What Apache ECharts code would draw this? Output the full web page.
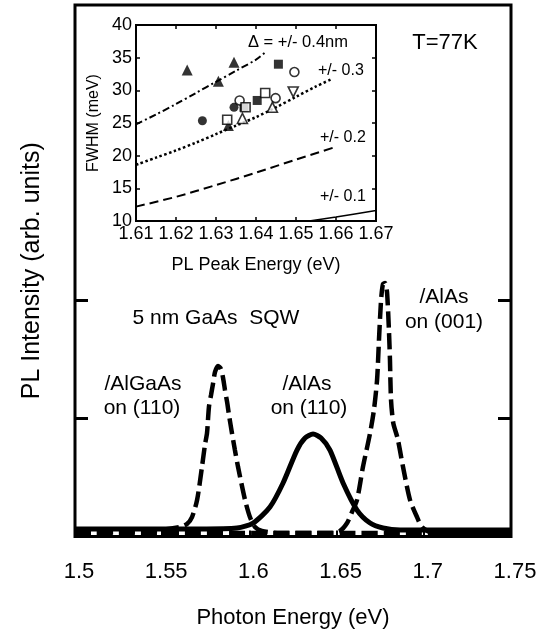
<!DOCTYPE html>
<html>
<head>
<meta charset="utf-8">
<script src="https://cdn.jsdelivr.net/npm/echarts@6/dist/echarts.min.js"></script>
<style>
  html, body { margin: 0; padding: 0; background: #fff; }
  #chart { width: 552px; height: 643px; }
</style>
</head>
<body>
<div id="chart"></div>
<script>
const FONT = '"Liberation Sans", Arial, Helvetica, sans-serif';

// Main panel: PL spectra, [photon energy (eV), intensity (arb. units)]
const algaas110 = [
  [1.5000, 0.030], [1.5258, 0.038], [1.5487, 0.055], [1.5602, 0.080], [1.5642, 0.106],
  [1.5671, 0.165], [1.5700, 0.309], [1.5728, 0.588], [1.5745, 0.775], [1.5757, 0.876],
  [1.5768, 1.097], [1.5780, 1.198], [1.5791, 1.291], [1.5803, 1.393], [1.5820, 1.444],
  [1.5837, 1.418], [1.5849, 1.342], [1.5860, 1.240], [1.5872, 1.139], [1.5883, 1.029],
  [1.5900, 0.876], [1.5917, 0.732], [1.5935, 0.588], [1.5975, 0.309], [1.6003, 0.165],
  [1.6032, 0.080], [1.6072, 0.047], [1.6175, 0.030], [1.7500, 0.030]
];
const alas110 = [
  [1.5000, 0.064], [1.5717, 0.064], [1.5929, 0.072], [1.6021, 0.114], [1.6118, 0.250],
  [1.6193, 0.453], [1.6273, 0.732], [1.6319, 0.834], [1.6365, 0.868], [1.6411, 0.834],
  [1.6462, 0.732], [1.6537, 0.453], [1.6617, 0.224], [1.6692, 0.114], [1.6766, 0.072],
  [1.6864, 0.055], [1.7036, 0.055], [1.7500, 0.055]
];
const alas001 = [
  [1.5000, 0.030], [1.6462, 0.030], [1.6519, 0.047], [1.6560, 0.114], [1.6588, 0.207],
  [1.6617, 0.309], [1.6651, 0.588], [1.6692, 0.876], [1.6714, 1.071], [1.6732, 1.325],
  [1.6743, 1.664], [1.6755, 2.003], [1.6766, 2.138], [1.6778, 2.146], [1.6789, 2.070],
  [1.6800, 1.749], [1.6806, 1.495], [1.6812, 1.156], [1.6825, 0.960], [1.6850, 0.830],
  [1.6881, 0.588], [1.6921, 0.309], [1.6961, 0.165], [1.6990, 0.080], [1.7036, 0.038],
  [1.7150, 0.030], [1.7500, 0.030]
];
const intensityTicks = [1, 2];

// Inset: FWHM (meV) versus PL peak energy (eV)
const filledTriangles = [[1.6228, 33.1], [1.6306, 31.4], [1.6345, 34.3], [1.6331, 24.6]];
const filledCircles   = [[1.6266, 25.35], [1.6345, 27.4]];
const filledSquares   = [[1.6370, 27.4], [1.6403, 28.45], [1.6456, 34.0]];
const openCircles     = [[1.6359, 28.45], [1.6449, 28.8], [1.6496, 32.8]];
const openSquares     = [[1.6328, 25.5], [1.6374, 27.4], [1.6423, 29.6]];
const openTriangles   = [[1.6366, 25.7], [1.6441, 27.4]];
const openDownTriangles = [[1.6493, 29.75]];

// Inset: calculated widths for well-width fluctuations of +/- 0.4, 0.3, 0.2, 0.1 nm
const delta04 = [[1.61, 24.8], [1.615, 26.3], [1.62, 27.9], [1.625, 29.6], [1.63, 31.3], [1.635, 33.0], [1.64, 34.7], [1.6425, 35.9]];
const delta03 = [[1.61, 18.6], [1.615, 19.7], [1.62, 20.8], [1.625, 22.0], [1.63, 23.3], [1.635, 24.6], [1.64, 25.9], [1.645, 27.4], [1.65, 29.0], [1.655, 30.6], [1.6592, 31.8]];
const delta02 = [[1.61, 12.2], [1.62, 13.7], [1.63, 15.5], [1.64, 17.4], [1.65, 19.4], [1.6592, 21.2]];
const delta01 = [[1.6533, 10.0], [1.66, 10.6], [1.67, 11.6]];

const chart = echarts.init(document.getElementById('chart'), null, { renderer: 'canvas' });

const black = '#000';
function scatter(data, symbol, filled, size, rotate) {
  return {
    type: 'scatter', xAxisIndex: 1, yAxisIndex: 2, data: data,
    symbol: symbol, symbolSize: size, symbolRotate: rotate || 0,
    itemStyle: filled ? { color: black, borderWidth: 0 } : { color: '#fff', borderColor: black, borderWidth: 1.6 },
    z: 12, silent: true
  };
}
function insetLine(data, dash, width) {
  return {
    type: 'line', xAxisIndex: 1, yAxisIndex: 2, data: data, symbol: 'none', smooth: 0.3,
    lineStyle: { color: black, width: width, type: dash }, z: 11, silent: true
  };
}
function spectrum(data, dash, width) {
  return {
    type: 'line', xAxisIndex: 0, yAxisIndex: 0, data: data, symbol: 'none', smooth: 0.25,
    lineStyle: { color: black, width: width, type: dash, cap: 'butt' }, z: 3, silent: true
  };
}
function txt(text, x, y, size, align) {
  return {
    type: 'text', x: x, y: y, z: 20,
    style: { text: text, font: size + 'px ' + FONT, fill: black, align: align || 'center', verticalAlign: 'middle' }
  };
}

const option = {
  backgroundColor: '#fff',
  animation: false,
  textStyle: { fontFamily: FONT, color: black },
  grid: [
    { left: 75, right: 41, top: 5, bottom: 106.5, show: true, borderColor: black, borderWidth: 3, backgroundColor: 'transparent', z: 1 },
    { left: 136, top: 25, width: 240, height: 196, show: true, borderColor: black, borderWidth: 2, backgroundColor: '#fff', z: 6 }
  ],
  xAxis: [
    {
      gridIndex: 0, type: 'value', min: 1.5, max: 1.75, interval: 0.05,
      axisLine: { show: false },
      axisTick: { inside: true, length: 6, lineStyle: { color: black, width: 2 } },
      axisLabel: { fontSize: 22, color: black, margin: 24, padding: [0, 0, 0, 8], fontFamily: FONT },
      splitLine: { show: false },
      name: 'Photon Energy (eV)', nameLocation: 'middle', nameGap: 70,
      nameTextStyle: { fontSize: 22, color: black, fontFamily: FONT }
    },
    {
      gridIndex: 1, type: 'value', min: 1.61, max: 1.67, interval: 0.01, z: 13,
      axisLine: { show: false },
      axisTick: { inside: true, length: 4, lineStyle: { color: black, width: 1.5 } },
      axisLabel: { fontSize: 18, color: black, margin: 4, fontFamily: FONT },
      splitLine: { show: false },
      name: 'PL Peak Energy (eV)', nameLocation: 'middle', nameGap: 35,
      nameTextStyle: { fontSize: 18, color: black, fontFamily: FONT }
    },
    {
      gridIndex: 1, type: 'value', position: 'top', min: 1.61, max: 1.67, interval: 0.01, z: 13,
      axisLine: { show: false },
      axisTick: { inside: true, length: 4, lineStyle: { color: black, width: 1.5 } },
      axisLabel: { show: false }, splitLine: { show: false }
    }
  ],
  yAxis: [
    {
      gridIndex: 0, type: 'value', min: 0, max: 4.5,
      axisLine: { show: false },
      axisTick: { inside: true, length: 13, customValues: intensityTicks, lineStyle: { color: black, width: 3 } },
      axisLabel: { show: false, customValues: intensityTicks },
      splitLine: { show: false },
      name: 'PL Intensity (arb. units)', nameLocation: 'middle', nameGap: 30,
      nameTextStyle: { fontSize: 25, color: black, fontFamily: FONT }
    },
    {
      gridIndex: 0, type: 'value', position: 'right', min: 0, max: 4.5,
      axisLine: { show: false },
      axisTick: { inside: true, length: 13, customValues: intensityTicks, lineStyle: { color: black, width: 3 } },
      axisLabel: { show: false, customValues: intensityTicks },
      splitLine: { show: false }
    },
    {
      gridIndex: 1, type: 'value', min: 10, max: 40, interval: 5, z: 13,
      axisLine: { show: false },
      axisTick: { inside: true, length: 4, lineStyle: { color: black, width: 1.5 } },
      axisLabel: { fontSize: 18, color: black, margin: 4, fontFamily: FONT },
      splitLine: { show: false },
      name: 'FWHM (meV)', nameLocation: 'middle', nameGap: 34,
      nameTextStyle: { fontSize: 16, color: black, fontFamily: FONT }
    },
    {
      gridIndex: 1, type: 'value', position: 'right', min: 10, max: 40, interval: 5, z: 13,
      axisLine: { show: false },
      axisTick: { inside: true, length: 4, lineStyle: { color: black, width: 1.5 } },
      axisLabel: { show: false }, splitLine: { show: false }
    }
  ],
  series: [
    spectrum(alas110, 'solid', 5),
    spectrum(algaas110, [16, 6], 4.5),
    spectrum(alas001, [16, 6], 4.5),

    insetLine(delta04, [7, 3, 2, 3], 2),
    insetLine(delta03, [2.5, 2.5], 2.5),
    insetLine(delta02, [9, 5], 2),
    insetLine(delta01, 'solid', 1.5),

    scatter(filledTriangles, 'triangle', true, 11),
    scatter(filledCircles, 'circle', true, 9),
    scatter(filledSquares, 'rect', true, 9),
    scatter(openCircles, 'circle', false, 9),
    scatter(openSquares, 'rect', false, 9),
    scatter(openTriangles, 'triangle', false, 10),
    scatter(openDownTriangles, 'triangle', false, 10, 180)
  ],
  graphic: [
    txt('T=77K', 445, 43, 22),
    txt('5 nm GaAs  SQW', 216, 318, 21),
    txt('/AlGaAs', 143, 384, 21),
    txt('on (110)', 142, 408, 21),
    txt('/AlAs', 307, 384, 21),
    txt('on (110)', 309, 408, 21),
    txt('/AlAs', 444, 297, 21),
    txt('on (001)', 444, 322, 21),
    txt('Δ = +/- 0.4nm', 248, 42, 16.5, 'left'),
    txt('+/- 0.3', 318, 71, 16, 'left'),
    txt('+/- 0.2', 320, 138, 16, 'left'),
    txt('+/- 0.1', 320, 197, 16, 'left')
  ]
};

chart.setOption(option);
</script>
</body>
</html>
